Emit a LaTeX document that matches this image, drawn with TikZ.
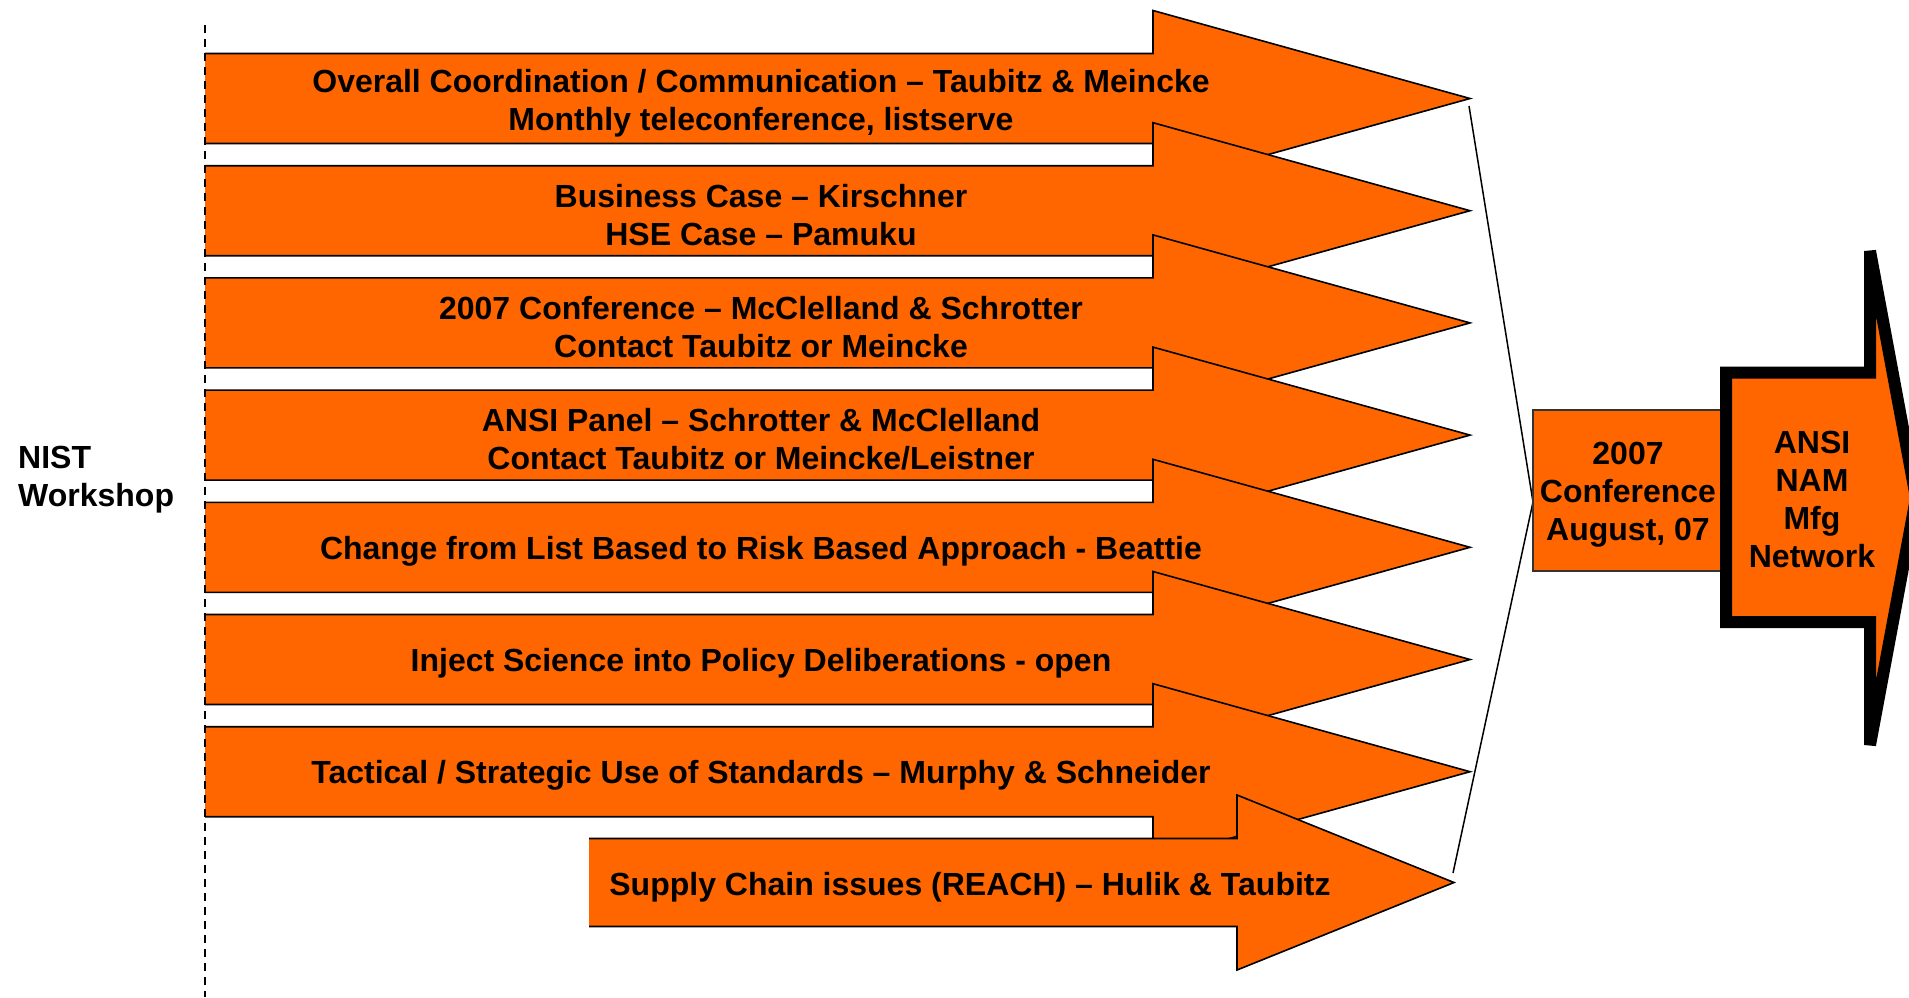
\documentclass[tikz,border=0pt]{standalone}
\usepackage{fontspec}
\setmainfont{Liberation Sans}
\definecolor{orng}{HTML}{FF6600}
\tikzset{
  arrowline/.style={draw=black, line width=1.6pt, line join=miter},
  lbl/.style={font=\fontsize{32}{38}\selectfont\bfseries, align=center, inner sep=0pt},
  lbll/.style={font=\fontsize{32}{38}\selectfont\bfseries, align=left, inner sep=0pt, anchor=west},
  confbox/.style={draw=black!80, line width=1.2pt, fill=orng, inner sep=0pt},
  bigarrow/.style={draw=black, fill=orng, line width=12pt, line join=miter, miter limit=5},
  bracket/.style={draw=black, line width=1.5pt},
  divider/.style={draw=black, line width=1.5pt, dash pattern=on 8pt off 6pt}
}
% #1 centre y, #2 left x, #3 shaft end x, #4 tip x, #5 body half height, #6 head half height
\newcommand\orarrow[6]{%
  \fill[orng] (#2,#1-#5) -- (#3,#1-#5) -- (#3,#1-#6) -- (#4,#1) -- (#3,#1+#6) -- (#3,#1+#5) -- (#2,#1+#5) -- cycle;
  \draw[arrowline] (#2,#1-#5) -- (#3,#1-#5) -- (#3,#1-#6) -- (#4,#1) -- (#3,#1+#6) -- (#3,#1+#5) -- (#2,#1+#5);
}
\begin{document}
\begin{tikzpicture}[x=1pt,y=-1pt]
\useasboundingbox (0,0) rectangle (1909,997);

% workshop arrows
\orarrow{98.5}{205}{1153}{1470}{45}{88}
\orarrow{210.7}{205}{1153}{1470}{45}{88}
\orarrow{322.9}{205}{1153}{1470}{45}{88}
\orarrow{435.1}{205}{1153}{1470}{45}{88}
\orarrow{547.3}{205}{1153}{1470}{45}{88}
\orarrow{659.5}{205}{1153}{1470}{45}{88}
\orarrow{771.7}{205}{1153}{1470}{45}{88}
\orarrow{882.5}{589}{1237}{1454}{44}{87.5}

\node[lbl] (a1) at (761,103) {Overall Coordination / Communication -- Taubitz \& Meincke\\Monthly teleconference, listserve};
\node[lbl] (a2) at (761,215) {Business Case -- Kirschner\\HSE Case -- Pamuku};
\node[lbl] (a3) at (761,327) {2007 Conference -- McClelland \& Schrotter\\Contact Taubitz or Meincke};
\node[lbl] (a4) at (761,439) {ANSI Panel -- Schrotter \& McClelland\\Contact Taubitz or Meincke/Leistner};
\node[lbl] (a5) at (761,551) {Change from List Based to Risk Based Approach - Beattie};
\node[lbl] (a6) at (761,663) {Inject Science into Policy Deliberations - open};
\node[lbl] (a7) at (761,775) {Tactical / Strategic Use of Standards -- Murphy \& Schneider};
\node[lbl] (a8) at (970,887) {Supply Chain issues (REACH) -- Hulik \& Taubitz};

% workshop label
\node[lbll] (nist) at (18,480) {NIST\\Workshop};

% bracket
\coordinate (b1) at (1469,106);
\coordinate (bv) at (1533,502);
\coordinate (b8) at (1453,873);
\draw[bracket] (b1) -- (bv) -- (b8);

% conference box
\node[confbox, minimum width=197pt, minimum height=161pt] (conf) at (1631.5,490.5) {};
\node[lbl] (conftext) at (1628,495) {2007\\Conference\\August, 07};

% big ANSI arrow
\draw[bigarrow] (1726,372.5) -- (1870,372.5) -- (1870,251) -- (1916,498) -- (1870,745) -- (1870,622) -- (1726,622) -- cycle;
\node[lbl] (ansi) at (1812,499) {ANSI\\NAM\\Mfg\\Network};

% dashed divider
\coordinate (dtop) at (205,25);
\coordinate (dbot) at (205,997);
\draw[divider] (dtop) -- (dbot);
\end{tikzpicture}
\end{document}
